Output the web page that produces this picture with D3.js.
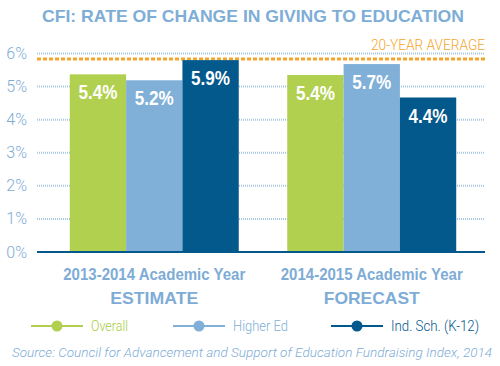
<!DOCTYPE html>
<html><head><meta charset="utf-8">
<script src="https://cdn.jsdelivr.net/npm/d3@7"></script>
<style>body{margin:0;background:#fff}svg{display:block}text{font-family:"Liberation Sans",Arial,sans-serif}</style>
</head><body><svg id="c" width="500" height="366"></svg>
<script>
const groups = ["2013-2014 Academic Year", "2014-2015 Academic Year"];
const groupSub = ["ESTIMATE", "FORECAST"];
const series = ["Overall", "Higher Ed", "Ind. Sch. (K-12)"];
const overall = [5.37, 5.35];
const higherEd = [5.19, 5.68];
const indSch = [5.8, 4.67];
const labelsOverall = ["5.4%", "5.4%"];
const labelsHigherEd = ["5.2%", "5.7%"];
const labelsIndSch = ["5.9%", "4.4%"];
const average = 5.83;
const yTicks = [0, 1, 2, 3, 4, 5, 6];
const colors = ["#b2d04f", "#80afd7", "#03588c"];
const legendTextColors = ["#a8cb3c", "#80afd7", "#03588c"];

const svg = d3.select("#c");
const y = d3.scaleLinear().domain([0, 6]).range([252, 53.5]);
const x0 = d3.scaleBand().domain(groups).range([39, 487]).paddingInner(0.223).paddingOuter(0.1415);
const x1 = d3.scaleBand().domain(series).range([0, x0.bandwidth()]);
const vals = [overall, higherEd, indSch];
const labs = [labelsOverall, labelsHigherEd, labelsIndSch];
const light = "#7eacd6";

// title
svg.append("text").attr("x", 253).attr("y", 22).attr("text-anchor", "middle")
  .attr("font-size", 17).attr("font-weight", "bold").attr("fill", "#7eadd6")
  .attr("textLength", 422).attr("lengthAdjust", "spacingAndGlyphs")
  .text("CFI: RATE OF CHANGE IN GIVING TO EDUCATION");

// gridlines
svg.append("g").selectAll("line").data(yTicks.filter(d => d > 0)).join("line")
  .attr("x1", 37).attr("x2", 485).attr("y1", d => y(d)).attr("y2", d => y(d))
  .attr("stroke", "#a8c7e5").attr("stroke-width", 2).attr("stroke-dasharray", "1,1");

// y tick labels
svg.append("g").selectAll("text").data(yTicks).join("text")
  .attr("x", 27).attr("y", d => y(d) + 5.5).attr("text-anchor", "end")
  .attr("font-size", 16).attr("fill", light).attr("font-weight", 300)
  .style("font-family", "Roboto, sans-serif")
  .text(d => d + "%");

// average line
svg.append("line").attr("x1", 37).attr("x2", 485).attr("y1", y(average)).attr("y2", y(average))
  .attr("stroke", "#f5a52b").attr("stroke-width", 3).attr("stroke-dasharray", "4,2");
svg.append("text").attr("x", 485).attr("y", 50).attr("text-anchor", "end")
  .attr("font-size", 14).attr("fill", "#f5a52b").attr("font-weight", 300)
  .style("font-family", "Roboto, sans-serif")
  .attr("textLength", 114).attr("lengthAdjust", "spacingAndGlyphs")
  .text("20-YEAR AVERAGE");

// bars
const gs = svg.append("g").selectAll("g").data(groups).join("g")
  .attr("transform", d => `translate(${x0(d)},0)`);
gs.each(function(g, gi) {
  const sel = d3.select(this);
  series.forEach((s, si) => {
    const v = vals[si][gi];
    sel.append("rect").attr("x", x1(s)).attr("width", x1.bandwidth())
      .attr("y", y(v)).attr("height", y(0) - y(v)).attr("fill", colors[si]);
    sel.append("text").attr("x", x1(s) + x1.bandwidth() / 2).attr("y", y(v) + 25)
      .attr("text-anchor", "middle").attr("font-size", 20).attr("font-weight", "bold")
      .attr("fill", "#fff").attr("textLength", 39).attr("lengthAdjust", "spacingAndGlyphs")
      .text(labs[si][gi]);
  });
});

// baseline
svg.append("line").attr("x1", 37).attr("x2", 485).attr("y1", y(0)).attr("y2", y(0))
  .attr("stroke", "#03588c").attr("stroke-width", 2);

// category labels
groups.forEach((g, i) => {
  const cx = x0(g) + x0.bandwidth() / 2;
  svg.append("text").attr("x", cx).attr("y", 280).attr("text-anchor", "middle")
    .attr("font-size", 17).attr("font-weight", "bold").attr("fill", light)
    .attr("textLength", 182).attr("lengthAdjust", "spacingAndGlyphs").text(g);
  svg.append("text").attr("x", cx).attr("y", 304).attr("text-anchor", "middle")
    .attr("font-size", 17).attr("font-weight", "bold").attr("fill", light)
    .attr("textLength", i === 0 ? 88 : 96).attr("lengthAdjust", "spacingAndGlyphs").text(groupSub[i]);
});

// legend
const legX = [31, 173, 331];
const legW = [37, 55, 88];
const leg = svg.append("g").selectAll("g").data(series).join("g")
  .attr("transform", (d, i) => `translate(${legX[i]},326)`);
leg.append("line").attr("x1", 0).attr("x2", 52).attr("stroke", (d, i) => colors[i]).attr("stroke-width", 2);
leg.append("circle").attr("cx", 26).attr("r", 5.5).attr("fill", (d, i) => colors[i]);
leg.append("text").attr("x", 60).attr("y", 5).attr("font-size", 14).attr("font-weight", 300)
  .style("font-family", "Roboto, sans-serif")
  .attr("textLength", (d, i) => legW[i]).attr("lengthAdjust", "spacingAndGlyphs")
  .attr("fill", (d, i) => legendTextColors[i]).text(d => d);

// source
svg.append("text").attr("x", 12).attr("y", 357).attr("font-size", 13).attr("font-style", "italic")
  .attr("font-weight", 300).style("font-family", "Roboto, sans-serif").attr("fill", light)
  .attr("textLength", 480).attr("lengthAdjust", "spacingAndGlyphs")
  .text("Source: Council for Advancement and Support of Education Fundraising Index, 2014");
</script></body></html>
